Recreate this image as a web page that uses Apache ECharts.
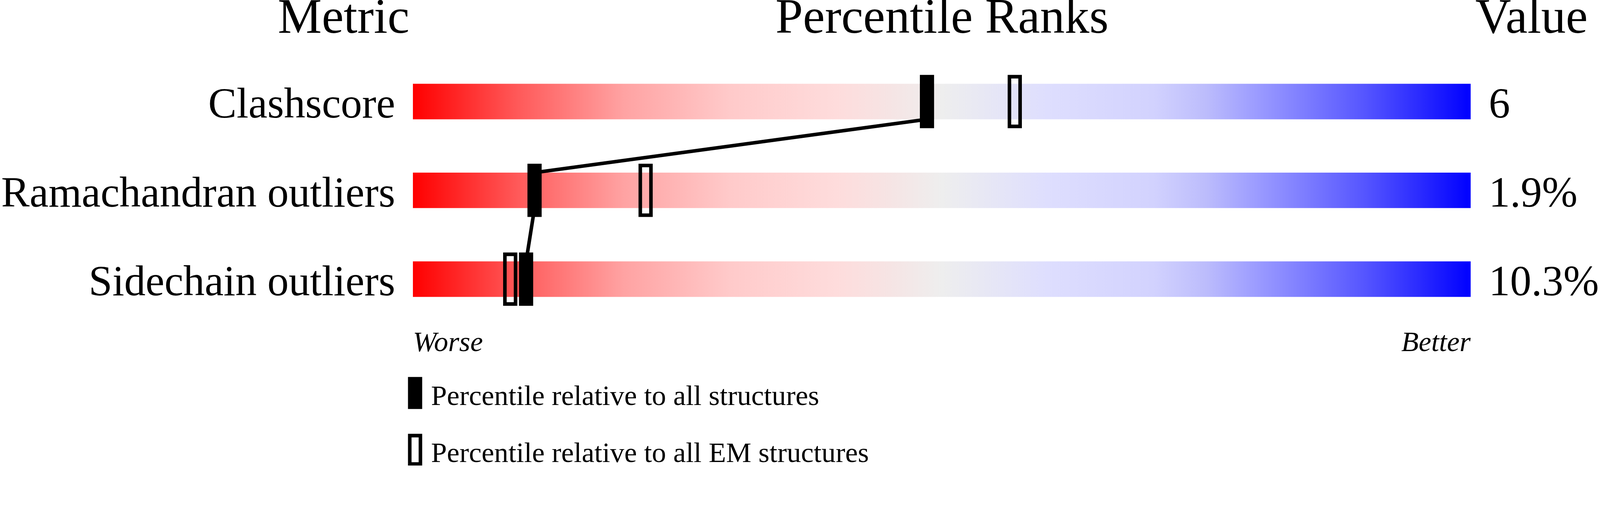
<!DOCTYPE html>
<html>
<head>
<meta charset="utf-8">
<title>Percentile Ranks</title>
<script src="https://cdn.jsdelivr.net/npm/echarts@6/dist/echarts.min.js"></script>
<style>
html, body { margin: 0; padding: 0; background: #fff; overflow: hidden; }
#container { width: 100vw; }
</style>
</head>
<body>
<div id="container"></div>
<script>
// data
var metrics = ['Clashscore', 'Ramachandran outliers', 'Sidechain outliers'];
var values = ['6', '1.9%', '10.3%'];
var pct_all = [48.6, 11.5, 10.7];   // percentile vs all structures (filled)
var pct_em = [56.9, 22.0, 9.2];     // percentile vs all EM structures (open)
var scale_ends = ['Worse', 'Better'];
var headers = ['Metric', 'Percentile Ranks', 'Value'];
var legend_names = ['Percentile relative to all structures', 'Percentile relative to all EM structures'];

var FONT = "'Liberation Serif', 'Times New Roman', serif";

var dom = document.getElementById('container');
// layout was measured on a 4506x1311 picture, keep that aspect and scale to the viewport width
var s = dom.clientWidth / 4506;
dom.style.height = (1311 * s) + 'px';
function px(v) { return v * s; }

var BAR_H = px(100), MARK_W = px(40), MARK_H = px(150), BORDER = px(10);

var grad_stops = [
    [0, '#ff0000'], [0.1, '#ff5a5a'], [0.2, '#ffa3a3'], [0.3, '#ffcaca'],
    [0.4, '#fedcdc'], [0.45, '#f6e4e4'], [0.5, '#eeeeee'], [0.55, '#e6e6f6'],
    [0.6, '#dedefe'], [0.7, '#d2d2fe'], [0.75, '#bcbcfc'], [0.8, '#9a9aff'],
    [0.85, '#7878ff'], [0.9, '#5555ff'], [0.95, '#2c2cff'], [1, '#0000ff']
];

var myChart = echarts.init(dom);

function render_bar(params, api) {
    var a = api.coord([api.value(0), api.value(1)]);
    var b = api.coord([api.value(2), api.value(1)]);
    return {
        type: 'rect',
        shape: {x: a[0], y: a[1] - BAR_H / 2, width: b[0] - a[0], height: BAR_H},
        style: {
            fill: new echarts.graphic.LinearGradient(0, 0, 1, 0, grad_stops.map(function (g) {
                return {offset: g[0], color: g[1]};
            }))
        }
    };
}

// link between the filled markers, from the bottom of one bar to the top of the next
function render_link(params, api) {
    var a = api.coord([api.value(0), api.value(1)]);
    var b = api.coord([api.value(2), api.value(3)]);
    return {
        type: 'line',
        shape: {x1: a[0], y1: a[1] + BAR_H / 2, x2: b[0], y2: b[1] - BAR_H / 2},
        style: {stroke: '#000', lineWidth: px(10)}
    };
}

function render_mark(filled) {
    return function (params, api) {
        var c = api.coord([api.value(0), api.value(1)]);
        if (filled) {
            return {
                type: 'rect',
                shape: {x: c[0] - MARK_W / 2, y: c[1] - MARK_H / 2, width: MARK_W, height: MARK_H},
                style: {fill: '#000'}
            };
        }
        return {
            type: 'rect',
            shape: {
                x: c[0] - MARK_W / 2 + BORDER / 2, y: c[1] - MARK_H / 2 + BORDER / 2,
                width: MARK_W - BORDER, height: MARK_H - BORDER
            },
            style: {fill: 'none', stroke: '#000', lineWidth: BORDER}
        };
    };
}

var bar_data = [], link_data = [], all_data = [], em_data = [];
for (var i = 0; i < metrics.length; i++) {
    bar_data.push([0, i, 100]);
    all_data.push([pct_all[i], i]);
    em_data.push([pct_em[i], i]);
    if (i < metrics.length - 1) {
        link_data.push([pct_all[i], i, pct_all[i + 1], i + 1]);
    }
}

var head_font = px(139) + 'px ' + FONT;
var leg_font = px(80) + 'px ' + FONT;

var option = {
    backgroundColor: '#fff',
    animation: false,
    textStyle: {fontFamily: FONT},
    grid: {left: px(1153), right: px(353), top: px(161), bottom: px(400)},
    xAxis: {
        type: 'value', min: 0, max: 100, interval: 100,
        axisLine: {show: false}, axisTick: {show: false}, splitLine: {show: false},
        axisLabel: {
            show: true, showMinLabel: true, showMaxLabel: true,
            alignMinLabel: 'left', alignMaxLabel: 'right',
            margin: px(17), fontFamily: FONT, fontSize: px(80), fontStyle: 'italic', color: '#000',
            formatter: function (v) { return v === 0 ? scale_ends[0] : scale_ends[1]; }
        }
    },
    yAxis: [{
        type: 'category', inverse: true, data: metrics,
        axisLine: {show: false}, axisTick: {show: false}, splitLine: {show: false},
        axisLabel: {margin: px(50), fontFamily: FONT, fontSize: px(120), color: '#000',
            verticalAlign: 'top', lineHeight: px(28)}
    }, {
        type: 'category', inverse: true, data: values, position: 'right',
        axisLine: {show: false}, axisTick: {show: false}, splitLine: {show: false},
        axisLabel: {margin: px(51), fontFamily: FONT, fontSize: px(120), color: '#000',
            verticalAlign: 'top', lineHeight: px(28)}
    }],
    graphic: [
        {type: 'text', x: px(1153), y: px(56), style: {text: headers[0], font: head_font, fill: '#000', textAlign: 'right', textVerticalAlign: 'middle'}},
        {type: 'text', x: px(2653), y: px(56), style: {text: headers[1], font: head_font, fill: '#000', textAlign: 'center', textVerticalAlign: 'middle'}},
        {type: 'text', x: px(4155), y: px(56), style: {text: headers[2], font: head_font, fill: '#000', textAlign: 'left', textVerticalAlign: 'middle'}},
        // legend
        {type: 'rect', shape: {x: px(1149), y: px(1062), width: px(40), height: px(90)}, style: {fill: '#000'}},
        {type: 'text', x: px(1214), y: px(1120), style: {text: legend_names[0], font: leg_font, fill: '#000', textAlign: 'left', textVerticalAlign: 'middle'}},
        {type: 'rect', shape: {x: px(1154), y: px(1227), width: px(30), height: px(80)}, style: {fill: 'none', stroke: '#000', lineWidth: px(10)}},
        {type: 'text', x: px(1214), y: px(1280), style: {text: legend_names[1], font: leg_font, fill: '#000', textAlign: 'left', textVerticalAlign: 'middle'}}
    ],
    series: [{
        name: 'bars', type: 'custom', renderItem: render_bar, data: bar_data,
        encode: {x: [0, 2], y: 1}, clip: false, z: 1, silent: true
    }, {
        name: 'links', type: 'custom', renderItem: render_link, data: link_data,
        encode: {x: [0, 2], y: [1, 3]}, clip: false, z: 2, silent: true
    }, {
        name: legend_names[0], type: 'custom', renderItem: render_mark(true), data: all_data,
        encode: {x: 0, y: 1}, clip: false, z: 3, itemStyle: {color: '#000'}
    }, {
        name: legend_names[1], type: 'custom', renderItem: render_mark(false), data: em_data,
        encode: {x: 0, y: 1}, clip: false, z: 3, itemStyle: {color: '#000'}
    }]
};

myChart.setOption(option);
</script>
</body>
</html>
